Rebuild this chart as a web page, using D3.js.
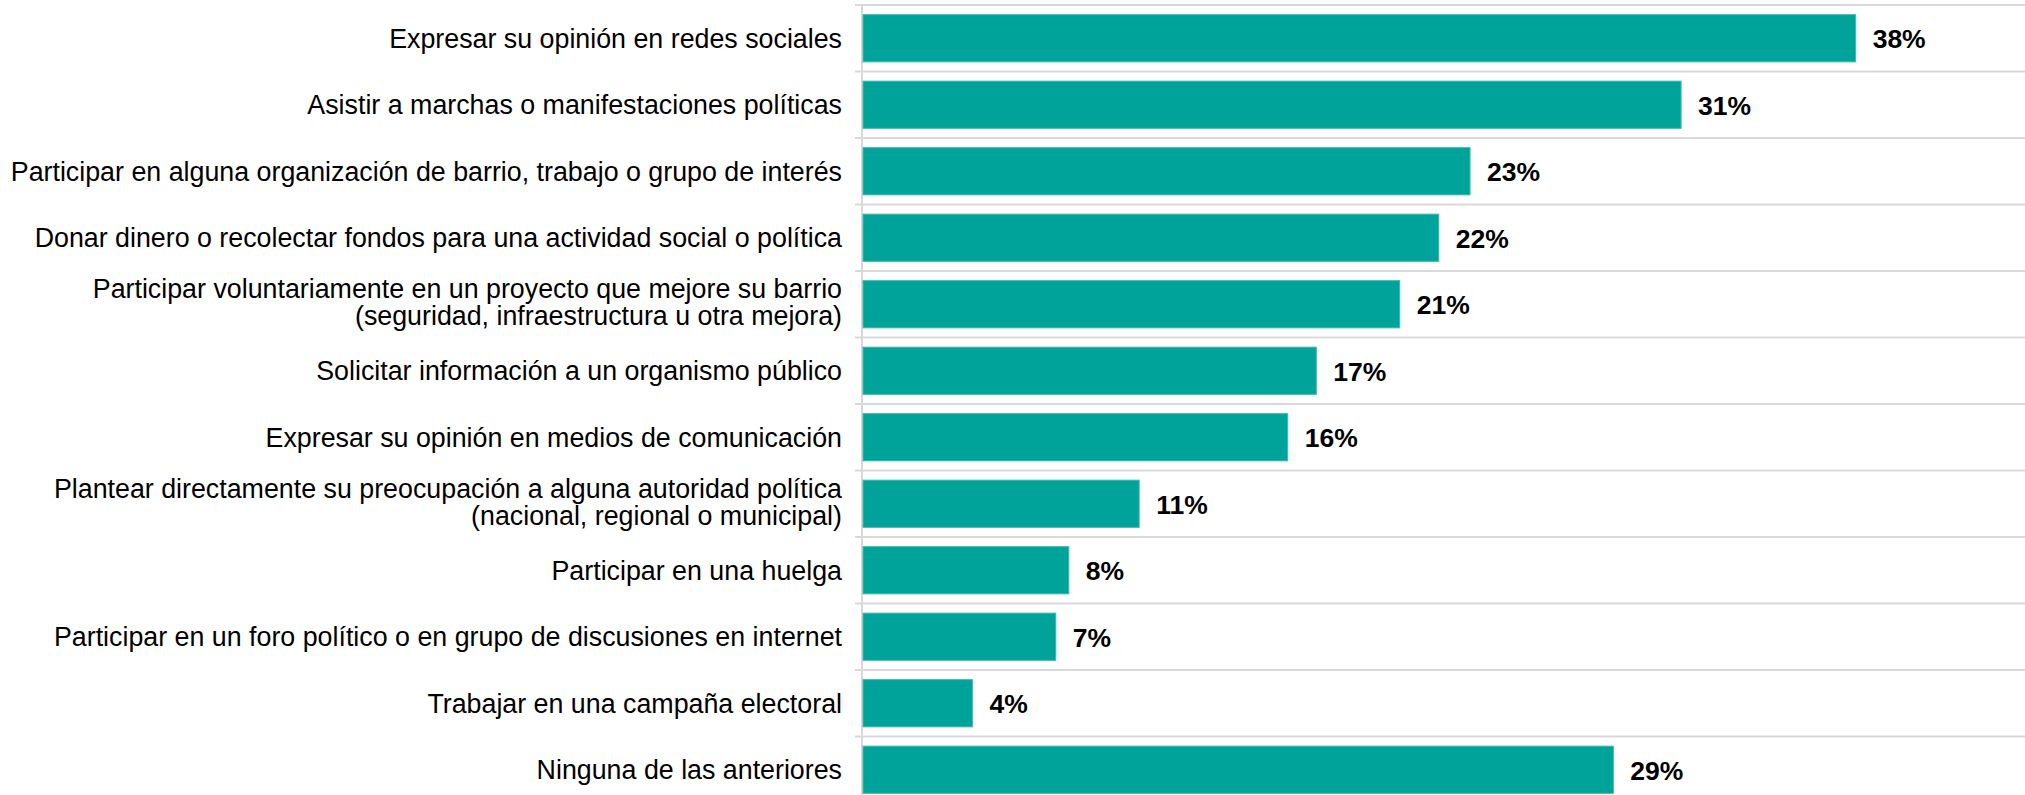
<!DOCTYPE html>
<html>
<head>
<meta charset="utf-8">
<script src="https://cdn.jsdelivr.net/npm/d3@7"></script>
<style>
  html, body { margin: 0; padding: 0; background: #fff; overflow: hidden; }
  .cat-label { font-family: "Liberation Sans", Arial, sans-serif; font-size: 26.8px; fill: #000; }
  .val-label { font-family: "Liberation Sans", Arial, sans-serif; font-size: 26.5px; font-weight: bold; fill: #000; }
  .grid line { stroke: #d9d9d9; stroke-width: 2px; }
</style>
</head>
<body>
<div id="chart"></div>
<script>
// categories, one entry per bar (split into the lines shown in the picture)
const categories = [
  ['Expresar su opinión en redes sociales'],
  ['Asistir a marchas o manifestaciones políticas'],
  ['Participar en alguna organización de barrio, trabajo o grupo de interés'],
  ['Donar dinero o recolectar fondos para una actividad social o política'],
  ['Participar voluntariamente en un proyecto que mejore su barrio', '(seguridad, infraestructura u otra mejora)'],
  ['Solicitar información a un organismo público'],
  ['Expresar su opinión en medios de comunicación'],
  ['Plantear directamente su preocupación a alguna autoridad política', '(nacional, regional o municipal)'],
  ['Participar en una huelga'],
  ['Participar en un foro político o en grupo de discusiones en internet'],
  ['Trabajar en una campaña electoral'],
  ['Ninguna de las anteriores'],
];

// percentages (labels show them rounded)
const values = [38.1, 31.4, 23.3, 22.1, 20.6, 17.4, 16.3, 10.6, 7.9, 7.4, 4.2, 28.8];

const width = 2025;
const height = 795;
const margin = { top: 5, left: 863 };
const plotBottom = 803; // the picture is cropped just above the last gridline
const xMax = 44.6;

const data = categories.map((lines, i) => ({ id: i, lines, value: values[i] }));

const svg = d3.select('#chart').append('svg')
  .attr('width', width)
  .attr('height', height);

const x = d3.scaleLinear()
  .domain([0, xMax])
  .range([margin.left, width]);

const y = d3.scaleBand()
  .domain(data.map(d => d.id))
  .range([margin.top, plotBottom])
  .paddingInner(0.29)
  .paddingOuter(0.145);

const step = y.step();
const boundaries = d3.range(data.length + 1).map(i => margin.top + i * step);

// horizontal gridlines at band boundaries, with short tick stubs left of the axis
svg.append('g').classed('grid', true).selectAll('line')
  .data(boundaries)
  .enter().append('line')
    .attr('x1', margin.left - 8)
    .attr('x2', width)
    .attr('y1', d => d)
    .attr('y2', d => d);

// vertical axis line
svg.append('line')
  .attr('x1', margin.left - 1)
  .attr('x2', margin.left - 1)
  .attr('y1', margin.top)
  .attr('y2', plotBottom)
  .style('stroke', '#d9d9d9')
  .style('stroke-width', '2px');

svg.append('g').selectAll('rect')
  .data(data)
  .enter().append('rect')
    .attr('x', x(0))
    .attr('y', d => y(d.id))
    .attr('width', d => x(d.value) - x(0))
    .attr('height', y.bandwidth())
    .style('fill', '#00a39a')
    .style('stroke', '#40b9b2')
    .style('stroke-width', 1);

let fmt = d3.format('.0f');
svg.append('g').selectAll('text')
  .data(data)
  .enter().append('text')
    .classed('val-label', true)
    .attr('x', d => x(d.value) + 17)
    .attr('y', d => y(d.id) + y.bandwidth() / 2)
    .attr('dy', '0.38em')
    .text(d => `${fmt(d.value)}%`);

let catLabels = svg.append('g').selectAll('text')
  .data(data)
  .enter().append('text')
    .classed('cat-label', true)
    .attr('text-anchor', 'end')
    .attr('y', d => y(d.id) + y.bandwidth() / 2);

// two-line labels sit a bit low in the reference, hence the offset below
catLabels.selectAll('tspan')
  .data(d => d.lines.map((t, i) => ({ t, i, n: d.lines.length })))
  .enter().append('tspan')
    .attr('x', margin.left - 21)
    .attr('dy', d => d.i === 0 ? `${0.355 - (d.n - 1) * 0.58}em` : '1em')
    .text(d => d.t);
</script>
</body>
</html>
